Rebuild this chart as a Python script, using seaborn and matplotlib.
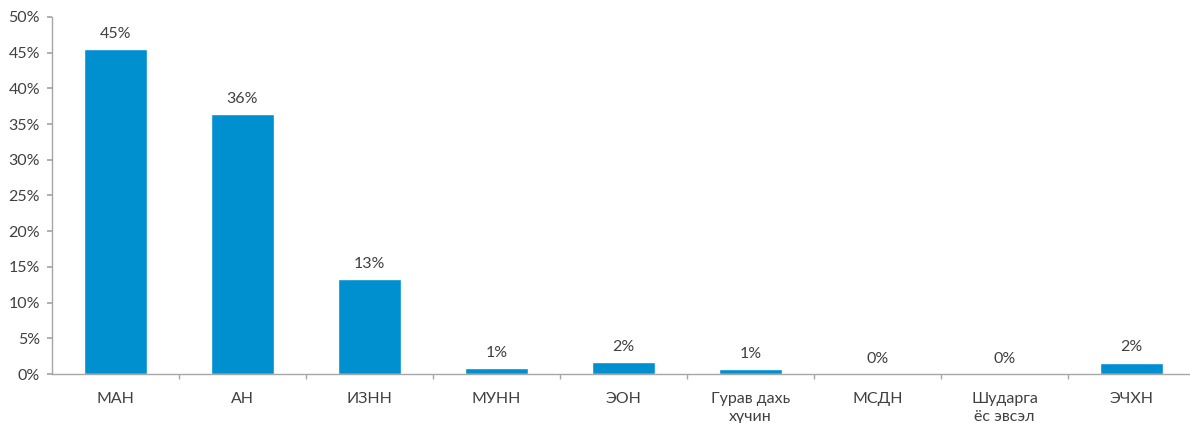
import matplotlib
matplotlib.use("Agg")
import matplotlib.pyplot as plt
import seaborn as sns
import pandas as pd
from matplotlib.ticker import FuncFormatter

categories = ["МАН", "АН", "ИЗНН", "МУНН", "ЭОН", "Гурав дахь\nхүчин", "МСДН", "Шударга\nёс эвсэл", "ЭЧХН"]
values = [45.5, 36.4, 13.3, 0.8, 1.7, 0.7, 0.0, 0.0, 1.6]
labels = ["45%", "36%", "13%", "1%", "2%", "1%", "0%", "0%", "2%"]
yticks = [0, 5, 10, 15, 20, 25, 30, 35, 40, 45, 50]

sns.set_theme(style="white")
plt.rcParams['font.family'] = ['Lato', 'DejaVu Sans']

df = pd.DataFrame({"cat": categories, "val": values})

W, H = 1190, 423
fig = plt.figure(figsize=(W / 100, H / 100), dpi=100)
ax = fig.add_axes([52 / W, 49 / H, (1195 - 52) / W, (374 - 17) / H])
sns.barplot(data=df, x="cat", y="val", color="#0090d0", saturation=1, width=0.5, ax=ax)

text_color = "#404040"
spine_color = "#a6a6a6"
for c in ax.containers:
    ax.bar_label(c, labels=labels, padding=6, fontsize=11.5, color=text_color)

ax.set_ylim(0, 50)
ax.set_xlim(-0.5, len(categories) - 0.5)
ax.set_yticks(yticks)
ax.yaxis.set_major_formatter(FuncFormatter(lambda v, p: f"{int(v)}%"))
ax.set_xlabel("")
ax.set_ylabel("")

for s in ["top", "right"]:
    ax.spines[s].set_visible(False)
for s in ["left", "bottom"]:
    ax.spines[s].set_color(spine_color)
    ax.spines[s].set_linewidth(1)

ax.tick_params(axis="y", which="major", direction="out", length=3.6, color=spine_color,
               labelsize=11.5, labelcolor=text_color, left=True, pad=5)
ax.tick_params(axis="x", which="major", length=0, labelsize=11.5, labelcolor=text_color, pad=13)
for lbl in ax.get_xticklabels():
    lbl.set_linespacing(1.4)
ax.set_xticks([i + 0.5 for i in range(len(categories) - 1)], minor=True)
ax.tick_params(axis="x", which="minor", direction="out", length=3.6, color=spine_color, bottom=True)

fig.savefig("out.png", dpi=100)
